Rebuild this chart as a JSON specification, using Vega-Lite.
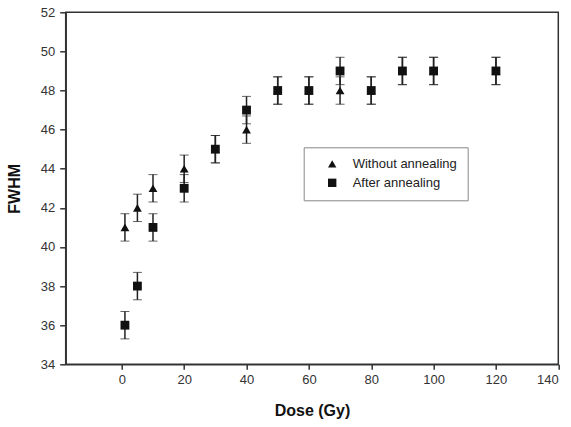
{
  "$schema": "https://vega.github.io/schema/vega-lite/v6.json",
  "width": 492.6,
  "height": 352,
  "autosize": {"type": "none"},
  "padding": {"left": 65.7, "top": 12.3, "right": 12.7, "bottom": 62.7},
  "background": "white",
  "config": {
    "font": "Liberation Sans",
    "view": {"stroke": "#333", "strokeWidth": 1.5},
    "axis": {
      "grid": false,
      "domainColor": "#333",
      "domainWidth": 1.5,
      "tickColor": "#333",
      "tickWidth": 1.5,
      "labelColor": "#333",
      "labelFontSize": 13,
      "titleColor": "#111",
      "titleFontSize": 16,
      "titleFontWeight": "bold"
    }
  },
  "data": {
    "values": [
      {"dose": 1, "fwhm": 41, "err": 0.7, "series": "Without annealing"},
      {"dose": 5, "fwhm": 42, "err": 0.7, "series": "Without annealing"},
      {"dose": 10, "fwhm": 43, "err": 0.7, "series": "Without annealing"},
      {"dose": 20, "fwhm": 44, "err": 0.7, "series": "Without annealing"},
      {"dose": 30, "fwhm": 45, "err": 0.7, "series": "Without annealing"},
      {"dose": 40, "fwhm": 46, "err": 0.7, "series": "Without annealing"},
      {"dose": 50, "fwhm": 48, "err": 0.7, "series": "Without annealing"},
      {"dose": 60, "fwhm": 48, "err": 0.7, "series": "Without annealing"},
      {"dose": 70, "fwhm": 48, "err": 0.7, "series": "Without annealing"},
      {"dose": 80, "fwhm": 48, "err": 0.7, "series": "Without annealing"},
      {"dose": 90, "fwhm": 49, "err": 0.7, "series": "Without annealing"},
      {"dose": 100, "fwhm": 49, "err": 0.7, "series": "Without annealing"},
      {"dose": 120, "fwhm": 49, "err": 0.7, "series": "Without annealing"},
      {"dose": 1, "fwhm": 36, "err": 0.7, "series": "After annealing"},
      {"dose": 5, "fwhm": 38, "err": 0.7, "series": "After annealing"},
      {"dose": 10, "fwhm": 41, "err": 0.7, "series": "After annealing"},
      {"dose": 20, "fwhm": 43, "err": 0.7, "series": "After annealing"},
      {"dose": 30, "fwhm": 45, "err": 0.7, "series": "After annealing"},
      {"dose": 40, "fwhm": 47, "err": 0.7, "series": "After annealing"},
      {"dose": 50, "fwhm": 48, "err": 0.7, "series": "After annealing"},
      {"dose": 60, "fwhm": 48, "err": 0.7, "series": "After annealing"},
      {"dose": 70, "fwhm": 49, "err": 0.7, "series": "After annealing"},
      {"dose": 80, "fwhm": 48, "err": 0.7, "series": "After annealing"},
      {"dose": 90, "fwhm": 49, "err": 0.7, "series": "After annealing"},
      {"dose": 100, "fwhm": 49, "err": 0.7, "series": "After annealing"},
      {"dose": 120, "fwhm": 49, "err": 0.7, "series": "After annealing"}
    ]
  },
  "encoding": {
    "x": {
      "field": "dose",
      "type": "quantitative",
      "scale": {"domain": [-18, 140], "nice": false, "zero": false},
      "axis": {
        "title": "Dose (Gy)",
        "values": [0, 20, 40, 60, 80, 100, 120, 140],
        "tickSize": 5,
        "labelPadding": 4,
        "titlePadding": 16
      }
    },
    "y": {
      "field": "fwhm",
      "type": "quantitative",
      "scale": {"domain": [34, 52], "nice": false, "zero": false},
      "axis": {
        "title": "FWHM",
        "values": [34, 36, 38, 40, 42, 44, 46, 48, 50, 52],
        "tickSize": 6,
        "labelPadding": 5,
        "titlePadding": 18
      }
    }
  },
  "layer": [
    {
      "mark": {
        "type": "errorbar",
        "ticks": {"size": 9, "color": "#222", "strokeWidth": 1.5},
        "rule": {"color": "#222", "strokeWidth": 1.5}
      },
      "encoding": {
        "yError": {"field": "err"}
      }
    },
    {
      "mark": {"type": "point", "filled": true, "opacity": 1, "color": "#111", "size": 78},
      "encoding": {
        "shape": {
          "field": "series",
          "type": "nominal",
          "scale": {
            "domain": ["Without annealing", "After annealing"],
            "range": ["triangle-up", "square"]
          },
          "legend": {
            "title": null,
            "orient": "none",
            "legendX": 238,
            "legendY": 135,
            "padding": 10,
            "strokeColor": "#888",
            "fillColor": "white",
            "labelFontSize": 13,
            "labelColor": "#222",
            "labelOffset": 14,
            "symbolOffset": 12,
            "symbolSize": 70,
            "symbolFillColor": "#111",
            "symbolStrokeColor": "#111",
            "rowPadding": 4
          }
        }
      }
    }
  ]
}
